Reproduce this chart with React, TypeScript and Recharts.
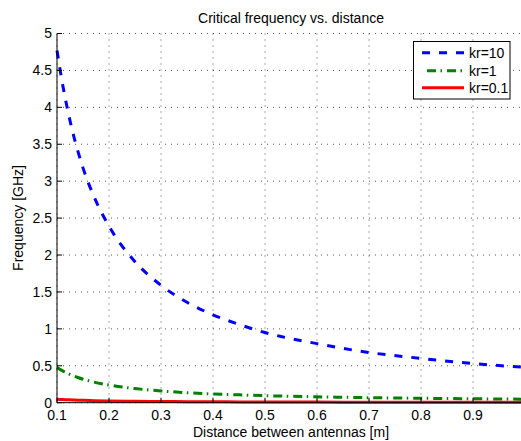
import React from 'react';
import { LineChart, Line, XAxis, YAxis, CartesianGrid } from 'recharts';

const distance = [0.1, 0.11, 0.12, 0.13, 0.14, 0.15, 0.17, 0.2, 0.25, 0.3, 0.35, 0.4, 0.45, 0.5, 0.6, 0.7, 0.8, 0.9, 1.0];
const kr10 = [4.77, 4.34, 3.98, 3.67, 3.41, 3.18, 2.81, 2.39, 1.91, 1.59, 1.36, 1.19, 1.06, 0.95, 0.8, 0.68, 0.6, 0.53, 0.48];
const kr1 = [0.477, 0.434, 0.398, 0.367, 0.341, 0.318, 0.281, 0.239, 0.191, 0.159, 0.136, 0.119, 0.106, 0.095, 0.08, 0.068, 0.06, 0.053, 0.048];
const kr01 = [0.048, 0.043, 0.04, 0.037, 0.034, 0.032, 0.028, 0.024, 0.019, 0.016, 0.014, 0.012, 0.011, 0.0095, 0.008, 0.0068, 0.006, 0.0053, 0.0048];

const xTicks = [0.1, 0.2, 0.3, 0.4, 0.5, 0.6, 0.7, 0.8, 0.9];
const yTicks = [0, 0.5, 1, 1.5, 2, 2.5, 3, 3.5, 4, 4.5, 5];

const seriesNames = ['kr=10', 'kr=1', 'kr=0.1'];
const seriesKeys = ['kr10', 'kr1', 'kr01'];
const seriesColors = ['#0000ff', '#008000', '#ff0000'];
const seriesDash = ['8 9', '9 4.5 1.5 5', undefined];

const data = distance.map((d, i) => ({ d, kr10: kr10[i], kr1: kr1[i], kr01: kr01[i] }));

const FONT = '"Liberation Sans", Arial, Helvetica, sans-serif';

export default function App() {
  const tickStyle = { fill: '#000', fontSize: 14, fontFamily: FONT };
  return (
    <div style={{ position: 'absolute', left: 0, top: 0, width: 521, height: 441, overflow: 'hidden', background: '#fff' }}>
      <LineChart width={540} height={441} data={data} margin={{ top: 33.5, right: 15, bottom: 0, left: 0 }}>
        <CartesianGrid stroke="#555" strokeDasharray="1 5" />
        <XAxis
          dataKey="d"
          type="number"
          domain={[0.1, 1]}
          ticks={xTicks}
          height={38.3}
          tickSize={-5}
          tickMargin={12.3}
          stroke="#000"
          tickLine={{ stroke: '#000' }}
          tick={tickStyle}
          tickFormatter={(v: number) => String(Number(v.toFixed(2)))}
          interval={0}
        />
        <XAxis
          xAxisId="top"
          orientation="top"
          dataKey="d"
          type="number"
          domain={[0.1, 1]}
          ticks={xTicks}
          height={0}
          tickSize={-5}
          stroke="#000"
          tickLine={{ stroke: '#000' }}
          tick={false}
          interval={0}
        />
        <YAxis
          type="number"
          domain={[0, 5]}
          ticks={yTicks}
          width={57}
          tickSize={-5}
          tickMargin={10}
          stroke="#000"
          tickLine={{ stroke: '#000' }}
          tick={tickStyle}
          interval={0}
        />
        {seriesKeys.map((k, i) => (
          <Line
            key={k}
            dataKey={k}
            type="monotone"
            stroke={seriesColors[i]}
            strokeWidth={3}
            strokeDasharray={seriesDash[i]}
            dot={false}
            activeDot={false}
            isAnimationActive={false}
          />
        ))}
      </LineChart>
      <svg width={521} height={441} style={{ position: 'absolute', left: 0, top: 0, pointerEvents: 'none' }}>
        <text x={291} y={23} textAnchor="middle" fontSize={14} fontFamily={FONT} fill="#000">
          Critical frequency vs. distance
        </text>
        <text x={291} y={436.7} textAnchor="middle" fontSize={14} fontFamily={FONT} fill="#000">
          Distance between antennas [m]
        </text>
        <text
          x={0}
          y={0}
          transform="translate(22.5,218) rotate(-90)"
          textAnchor="middle"
          fontSize={14}
          fontFamily={FONT}
          fill="#000"
        >
          Frequency [GHz]
        </text>
        <rect x={413.5} y={41.5} width={96.5} height={57.5} fill="#fff" stroke="#000" strokeWidth={1} />
        {seriesNames.map((n, i) => {
          const cy = [52.7, 70.7, 87.7][i];
          return (
            <g key={n}>
              <line
                x1={422}
                x2={464}
                y1={cy}
                y2={cy}
                stroke={seriesColors[i]}
                strokeWidth={3}
                strokeDasharray={seriesDash[i]}
                strokeDashoffset={i === 1 ? 15 : 0}
              />
              <text x={469} y={cy + 5} fontSize={14} fontFamily={FONT} fill="#000">
                {n}
              </text>
            </g>
          );
        })}
      </svg>
    </div>
  );
}
